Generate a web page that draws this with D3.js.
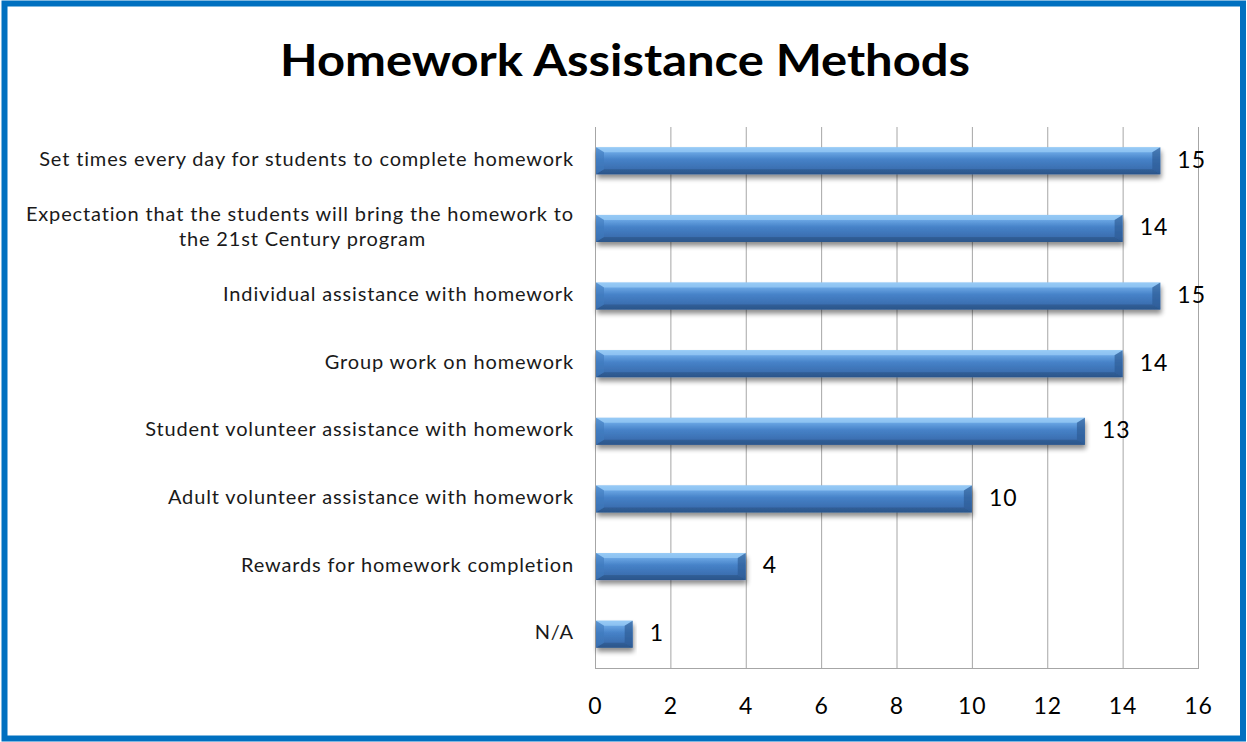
<!DOCTYPE html>
<html>
<head>
<meta charset="utf-8">
<script src="https://cdn.jsdelivr.net/npm/d3@7"></script>
<style>
  html, body { margin: 0; padding: 0; background: #ffffff; }
  svg { display: block; }
</style>
</head>
<body>
<svg id="chart" width="1247" height="742"></svg>
<script>
// Survey responses: number of programs using each homework assistance method
const categories = [
  "Set times every day for students to complete homework",
  "Expectation that the students will bring the homework to|the 21st Century program",
  "Individual assistance with homework",
  "Group work on homework",
  "Student volunteer assistance with homework",
  "Adult volunteer assistance with homework",
  "Rewards for homework completion",
  "N/A"
];
const counts = [15, 14, 15, 14, 13, 10, 4, 1];
const tickValues = [0, 2, 4, 6, 8, 10, 12, 14, 16];
const chartTitle = "Homework Assistance Methods";

const W = 1247, H = 742;
const margin = { left: 595, right: 49, top: 127, bottom: 74 };
const svg = d3.select("#chart");
const font = "Lato, 'Open Sans', sans-serif";

// Frame
svg.append("rect").attr("x", 0).attr("y", 0).attr("width", W).attr("height", H).attr("fill", "#fff");
svg.append("rect")
  .attr("x", 4.5).attr("y", 3.5).attr("width", W - 8.5).attr("height", H - 7)
  .attr("fill", "none").attr("stroke", "#0070c0").attr("stroke-width", 6);

// Title
svg.append("text")
  .attr("x", 625).attr("y", 76)
  .attr("text-anchor", "middle")
  .attr("font-family", font).attr("font-weight", 700)
  .attr("font-size", 44).attr("fill", "#000")
  .attr("textLength", 690).attr("lengthAdjust", "spacingAndGlyphs")
  .text(chartTitle);

const x = d3.scaleLinear().domain([0, 16]).range([margin.left, W - margin.right]);
const y = d3.scaleBand().domain(d3.range(categories.length))
  .range([margin.top, H - margin.bottom]).paddingInner(0.6).paddingOuter(0.3);

// Gradients and shadow
const defs = svg.append("defs");
const g1 = defs.append("linearGradient").attr("id", "barFill").attr("x1", 0).attr("y1", 0).attr("x2", 0).attr("y2", 1);
[[0, "#8cc3f4"], [0.18, "#6aa6e4"], [0.45, "#4682c8"], [0.8, "#3b6fb1"], [1, "#2f5c96"]]
  .forEach(([o, c]) => g1.append("stop").attr("offset", o).attr("stop-color", c));
const shadow = defs.append("filter").attr("id", "shadow")
  .attr("x", "-10%").attr("y", "-30%").attr("width", "120%").attr("height", "180%");
shadow.append("feGaussianBlur").attr("in", "SourceAlpha").attr("stdDeviation", 2.5).attr("result", "b");
shadow.append("feOffset").attr("in", "b").attr("dx", 1).attr("dy", 4).attr("result", "o");
shadow.append("feComponentTransfer").attr("in", "o").attr("result", "s")
  .append("feFuncA").attr("type", "linear").attr("slope", 0.45);
const merge = shadow.append("feMerge");
merge.append("feMergeNode").attr("in", "s");
merge.append("feMergeNode").attr("in", "SourceGraphic");

// Grid
const grid = svg.append("g");
grid.selectAll("line.v").data(tickValues).join("line")
  .attr("x1", d => x(d) + 0.5).attr("x2", d => x(d) + 0.5)
  .attr("y1", margin.top).attr("y2", H - margin.bottom)
  .attr("stroke", "#a6a6a6").attr("stroke-width", 1);
grid.append("line")
  .attr("x1", x(0)).attr("x2", x(16) + 1)
  .attr("y1", H - margin.bottom + 0.5).attr("y2", H - margin.bottom + 0.5)
  .attr("stroke", "#a6a6a6");

// X tick labels
const xAxis = d3.axisBottom(x).tickValues(tickValues).tickSize(0).tickPadding(0);
const ax = svg.append("g").attr("transform", `translate(0, ${H - margin.bottom + 40})`).call(xAxis);
ax.select(".domain").remove();
ax.selectAll("text").attr("font-family", font).attr("font-size", 23).attr("fill", "#000")
  .attr("letter-spacing", 1).attr("dy", 0).attr("dominant-baseline", "middle").attr("y", 0);

// Bars
const bh = y.bandwidth();
const bars = svg.append("g").selectAll("g.bar").data(counts).join("g")
  .attr("filter", "url(#shadow)");
bars.each(function(v, i) {
  const g = d3.select(this);
  const x0 = x(0) + 1, x1 = x(v), y0 = y(i), y1 = y(i) + bh;
  const bx = Math.min(8, (x1 - x0) / 2 - 1), by = 5;
  g.append("rect").attr("x", x0).attr("y", y0).attr("width", x1 - x0).attr("height", bh)
    .attr("fill", "url(#barFill)");
  // bevelled ends and edges
  g.append("path").attr("d", `M${x0},${y0}L${x1},${y0}L${x1 - bx},${y0 + by}L${x0 + bx},${y0 + by}Z`)
    .attr("fill", "#9bcdf7").attr("opacity", 0.7);
  g.append("path").attr("d", `M${x0},${y1}L${x1},${y1}L${x1 - bx},${y1 - by}L${x0 + bx},${y1 - by}Z`)
    .attr("fill", "#27507f").attr("opacity", 0.5);
  g.append("path").attr("d", `M${x0},${y0}L${x0 + bx},${y0 + by}L${x0 + bx},${y1 - by}L${x0},${y1}Z`)
    .attr("fill", "#3f79bd").attr("opacity", 0.6);
  g.append("path").attr("d", `M${x1},${y0}L${x1 - bx},${y0 + by}L${x1 - bx},${y1 - by}L${x1},${y1}Z`)
    .attr("fill", "#2c5a94").attr("opacity", 0.65);
});

// Value labels
svg.append("g").selectAll("text").data(counts).join("text")
  .attr("x", d => x(d) + 17).attr("y", (d, i) => y(i) + bh / 2 + 1)
  .attr("dominant-baseline", "middle")
  .attr("font-family", font).attr("font-size", 23).attr("letter-spacing", 1).attr("fill", "#000")
  .text(d => d);

// Category labels (right aligned, wrapped where marked)
const labels = svg.append("g").selectAll("text").data(categories).join("text")
  .attr("font-family", font).attr("font-size", 20).attr("letter-spacing", 0.85).attr("fill", "#1a1a1a");
labels.each(function(c, i) {
  const lines = c.split("|");
  const t = d3.select(this);
  const cy = y(i) + bh / 2;
  lines.forEach((ln, k) => {
    const ty = cy + (k - (lines.length - 1) / 2) * 25;
    t.append("tspan").attr("x", k === 1 ? 426 : 574).attr("y", ty)
      .attr("dominant-baseline", "middle").attr("text-anchor", "end")
      .text(ln);
  });
});
</script>
</body>
</html>
